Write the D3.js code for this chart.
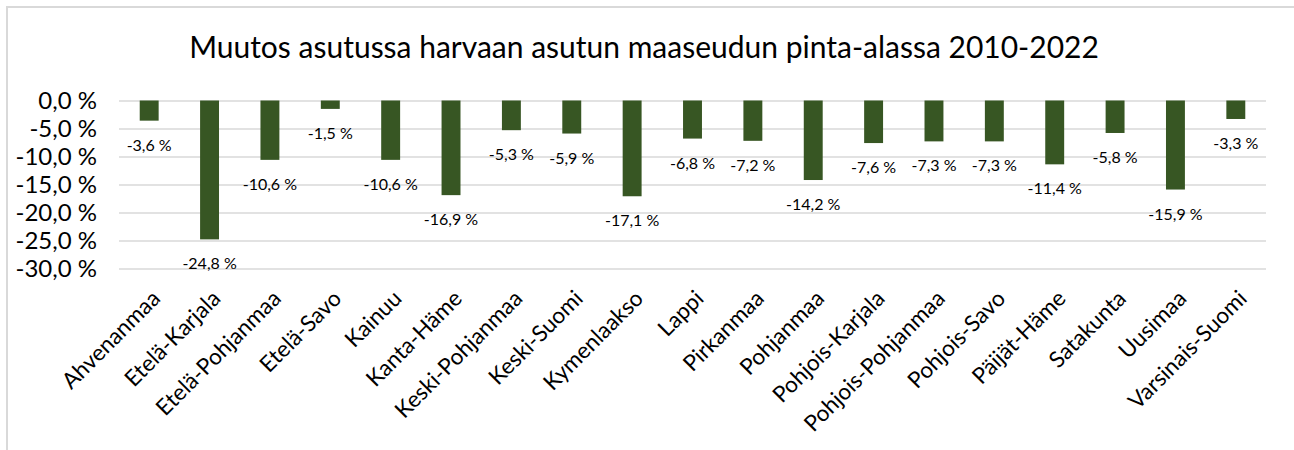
<!DOCTYPE html>
<html>
<head>
<meta charset="utf-8">
<script src="https://cdn.jsdelivr.net/npm/d3@7"></script>
<style>
  html, body { margin: 0; padding: 0; background: #fff; }
  svg { display: block; }
  text { font-family: Lato, "Open Sans", sans-serif; fill: #000; }
</style>
</head>
<body>
<svg id="chart" width="1294" height="450"></svg>
<script>
const title = "Muutos asutussa harvaan asutun maaseudun pinta-alassa 2010-2022";
const categories = ["Ahvenanmaa", "Etelä-Karjala", "Etelä-Pohjanmaa", "Etelä-Savo", "Kainuu",
  "Kanta-Häme", "Keski-Pohjanmaa", "Keski-Suomi", "Kymenlaakso", "Lappi", "Pirkanmaa",
  "Pohjanmaa", "Pohjois-Karjala", "Pohjois-Pohjanmaa", "Pohjois-Savo", "Päijät-Häme",
  "Satakunta", "Uusimaa", "Varsinais-Suomi"];
const values = [-3.6, -24.8, -10.6, -1.5, -10.6, -16.9, -5.3, -5.9, -17.1, -6.8, -7.2,
  -14.2, -7.6, -7.3, -7.3, -11.4, -5.8, -15.9, -3.3];
const yTicks = [0, -5, -10, -15, -20, -25, -30];

const locale = d3.formatLocale({decimal: ",", thousands: " ", grouping: [3], currency: ["", " €"], minus: "-"});
const fmt = v => locale.format(".1f")(v) + " %";

const svg = d3.select("#chart");
const W = 1294, H = 450;
const plot = {left: 119, right: 1266, top: 100.5, bottom: 268.5};

svg.append("rect").attr("width", W).attr("height", H).attr("fill", "#fff");
// outer chart border (partially visible)
svg.append("rect").attr("x", 7).attr("y", 7).attr("width", W + 20).attr("height", H + 20)
  .attr("fill", "none").attr("stroke", "#d9d9d9").attr("stroke-width", 2);

svg.append("text").attr("x", 644).attr("y", 58).attr("text-anchor", "middle")
  .style("font-size", "30px").text(title);

const x = d3.scaleBand().domain(categories).range([plot.left, plot.right])
  .paddingInner(2.19 / 3.19).paddingOuter(1.095 / 3.19);
const y = d3.scaleLinear().domain([0, -30]).range([plot.top, plot.bottom]);

const yAxis = d3.axisLeft(y).tickValues(yTicks).tickFormat(fmt)
  .tickSize(-(plot.right - plot.left)).tickPadding(22);
const gy = svg.append("g").attr("transform", `translate(${plot.left},0)`).call(yAxis);
gy.select(".domain").remove();
gy.selectAll(".tick line").attr("stroke", "#d9d9d9").attr("stroke-width", 1.5);
gy.selectAll(".tick text").style("font-size", "24px").style("font-family", "Lato, sans-serif").attr("fill", "#000");

svg.append("g").selectAll("rect").data(values).join("rect")
  .attr("x", (d, i) => x(categories[i]))
  .attr("width", x.bandwidth())
  .attr("y", d => y(Math.max(0, d)))
  .attr("height", d => Math.abs(y(d) - y(0)))
  .attr("fill", "#375623");

svg.append("g").selectAll("text").data(values).join("text")
  .attr("x", (d, i) => x(categories[i]) + x.bandwidth() / 2)
  .attr("y", d => y(d) + 30)
  .attr("text-anchor", "middle")
  .style("font-size", "16px")
  .text(d => fmt(d));

svg.append("g").selectAll("text").data(categories).join("text")
  .attr("text-anchor", "end")
  .attr("transform", d => `translate(${x(d) + x.bandwidth() / 2 + 1},${plot.bottom + 20}) rotate(-45)`)
  .attr("dy", "0.72em")
  .style("font-size", "22.5px")
  .text(d => d);
</script>
</body>
</html>
